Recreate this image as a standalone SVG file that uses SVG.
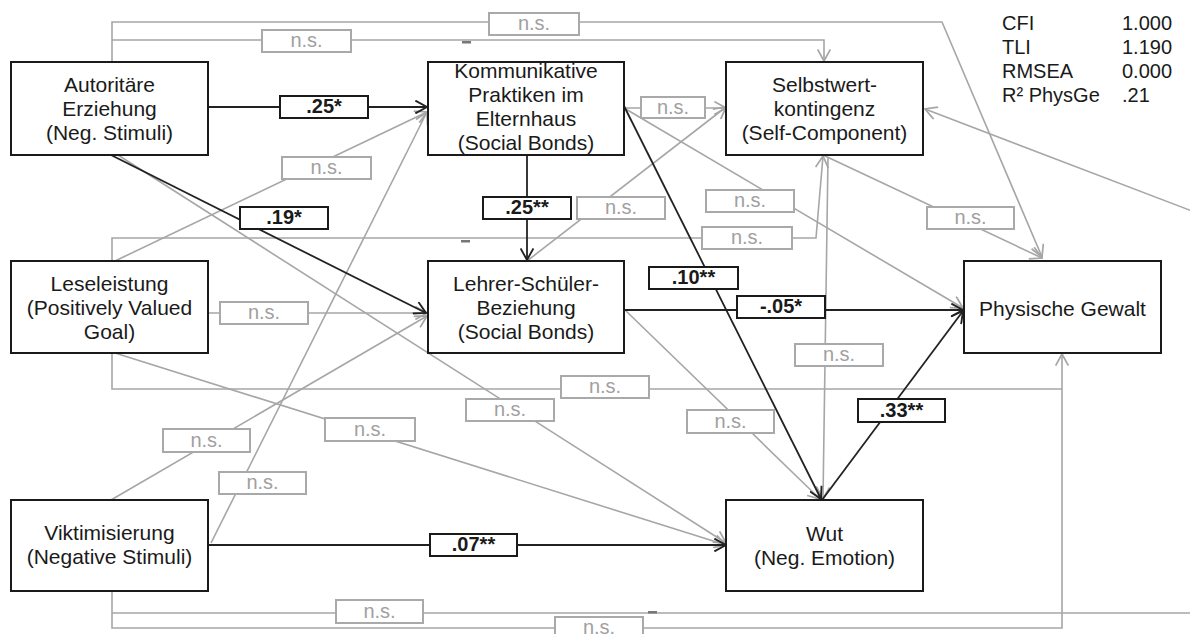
<svg xmlns="http://www.w3.org/2000/svg" width="1190" height="634" viewBox="0 0 1190 634">
<defs>
<style>
.node{fill:#fff;stroke:#1a1a1a;stroke-width:2}
.nt{font-family:"Liberation Sans",Arial,sans-serif;font-size:21px;fill:#1a1a1a;text-anchor:middle}
.st{font-family:"Liberation Sans",Arial,sans-serif;font-size:20px;fill:#1a1a1a}
.cb{fill:none;stroke:#222;stroke-width:1.8}
.cg{fill:none;stroke:#a6a6a6;stroke-width:1.6}
.lb{fill:#fff;stroke:#1a1a1a;stroke-width:2}
.lg{fill:#fff;stroke:#a9a9a9;stroke-width:2}
.tb{font-family:"Liberation Sans",Arial,sans-serif;font-size:20px;font-weight:bold;fill:#1a1a1a;text-anchor:middle}
.tg{font-family:"Liberation Sans",Arial,sans-serif;font-size:20px;fill:#a0a0a0;text-anchor:middle}
.dash{fill:#777}
</style>
<marker id="ab" markerUnits="userSpaceOnUse" markerWidth="14" markerHeight="14" refX="11" refY="6" orient="auto" viewBox="0 0 12 12"><path d="M1,0.5 L11,6 L1,11.5" fill="none" stroke="#222" stroke-width="1.6"/></marker>
<marker id="ag" markerUnits="userSpaceOnUse" markerWidth="14" markerHeight="14" refX="11" refY="6" orient="auto" viewBox="0 0 12 12"><path d="M1,0.5 L11,6 L1,11.5" fill="none" stroke="#a6a6a6" stroke-width="1.5"/></marker>
</defs>
<rect width="1190" height="634" fill="#fff"/>

<g id="connectors">
<!-- gray connectors -->
<path class="cg" marker-end="url(#ag)" d="M112,62 L112,22 L942,22 L1042,257"/>
<path class="cg" marker-end="url(#ag)" d="M112,40 L824,40 L824,61"/>
<path class="cg" marker-end="url(#ag)" d="M624,108 L726,108"/>
<path class="cg" marker-end="url(#ag)" d="M115,261 L427,112"/>
<path class="cg" marker-end="url(#ag)" d="M527,261 L726,107"/>
<path class="cg" marker-end="url(#ag)" d="M624,108 L963,308"/>
<path class="cg" marker-end="url(#ag)" d="M112,261 L112,238 L816,238 L823,156"/>
<path class="cg" marker-end="url(#ag)" d="M823,155 L1042,258"/>
<path class="cg" marker-end="url(#ag)" d="M208,313 L427,313"/>
<path class="cg" marker-end="url(#ag)" d="M828,157 L823,499"/>
<path class="cg" marker-end="url(#ag)" d="M112,353 L112,389 L1062,389 L1062,354"/>
<path class="cg" marker-end="url(#ag)" d="M118,155 L726,543"/>
<path class="cg" marker-end="url(#ag)" d="M115,353 L726,545"/>
<path class="cg" marker-end="url(#ag)" d="M624,309 L820,499"/>
<path class="cg" marker-end="url(#ag)" d="M111,500 L427,316"/>
<path class="cg" marker-end="url(#ag)" d="M211,543 L427,112"/>
<path class="cg" d="M112,591 L112,628 L1062,628 L1062,389"/>
<path class="cg" marker-end="url(#ag)" d="M112,613 L1205,613 L1205,216 L925,109"/>
<!-- black connectors -->
<path class="cb" marker-end="url(#ab)" d="M208,107 L427,107"/>
<path class="cb" marker-end="url(#ab)" d="M111,155 L426,313"/>
<path class="cb" marker-end="url(#ab)" d="M527,155 L527,260"/>
<path class="cb" marker-end="url(#ab)" d="M624,106 L821,499"/>
<path class="cb" marker-end="url(#ab)" d="M624,310 L963,310"/>
<path class="cb" marker-end="url(#ab)" d="M822,500 L963,311"/>
<path class="cb" marker-end="url(#ab)" d="M208,545 L726,545"/>
<!-- small jump marks -->
<rect class="dash" x="462" y="41" width="9" height="2.5"/>
<rect class="dash" x="461" y="240" width="9" height="2.5"/>
<rect class="dash" x="648" y="611" width="9" height="2.5"/>

<!-- n.s. labels -->
<g>
<rect class="lg" x="489" y="13" width="90" height="22"/><text class="tg" x="534" y="30">n.s.</text>
<rect class="lg" x="262" y="30" width="89" height="22"/><text class="tg" x="306.5" y="47">n.s.</text>
<rect class="lg" x="641" y="97" width="64" height="21"/><text class="tg" x="673" y="114">n.s.</text>
<rect class="lg" x="282" y="157" width="89" height="22"/><text class="tg" x="326.5" y="174">n.s.</text>
<rect class="lg" x="577" y="197" width="88" height="22"/><text class="tg" x="621" y="214">n.s.</text>
<rect class="lg" x="706" y="190" width="88" height="22"/><text class="tg" x="750" y="207">n.s.</text>
<rect class="lg" x="702" y="227" width="90" height="22"/><text class="tg" x="747" y="244">n.s.</text>
<rect class="lg" x="927" y="207" width="87" height="22"/><text class="tg" x="970.5" y="224">n.s.</text>
<rect class="lg" x="220" y="302" width="88" height="22"/><text class="tg" x="264" y="319">n.s.</text>
<rect class="lg" x="795" y="344" width="88" height="22"/><text class="tg" x="839" y="361">n.s.</text>
<rect class="lg" x="561" y="376" width="88" height="22"/><text class="tg" x="605" y="393">n.s.</text>
<rect class="lg" x="466" y="399" width="88" height="22"/><text class="tg" x="510" y="416">n.s.</text>
<rect class="lg" x="325" y="418" width="90" height="23"/><text class="tg" x="370" y="436">n.s.</text>
<rect class="lg" x="687" y="410" width="87" height="23"/><text class="tg" x="730.5" y="428">n.s.</text>
<rect class="lg" x="163" y="429" width="87" height="23"/><text class="tg" x="206.5" y="447">n.s.</text>
<rect class="lg" x="219" y="472" width="87" height="22"/><text class="tg" x="262.5" y="489">n.s.</text>
<rect class="lg" x="336" y="600" width="87" height="23"/><text class="tg" x="379.5" y="618">n.s.</text>
<rect class="lg" x="555" y="617" width="88" height="23"/><text class="tg" x="599" y="634">n.s.</text>
</g>
<!-- significant labels -->
<g>
<rect class="lb" x="280" y="96" width="88" height="22"/><text class="tb" x="324" y="113">.25*</text>
<rect class="lb" x="240" y="207" width="88" height="22"/><text class="tb" x="284" y="224">.19*</text>
<rect class="lb" x="483" y="197" width="88" height="22"/><text class="tb" x="527" y="214">.25**</text>
<rect class="lb" x="649" y="267" width="89" height="22"/><text class="tb" x="693.5" y="284">.10**</text>
<rect class="lb" x="737" y="296" width="88" height="22"/><text class="tb" x="781" y="313">-.05*</text>
<rect class="lb" x="858" y="399" width="87" height="23"/><text class="tb" x="901.5" y="417" font-weight="normal">.33**</text>
<rect class="lb" x="430" y="534" width="87" height="22"/><text class="tb" x="473.5" y="551">.07**</text>
</g>
</g>

<g id="n-autoritaer">
<rect class="node" x="11" y="62" width="197" height="93"/>
<text class="nt" x="109.5" y="92">Autoritäre</text>
<text class="nt" x="109.5" y="116">Erziehung</text>
<text class="nt" x="109.5" y="140">(Neg. Stimuli)</text>
</g>
<g id="n-kommunikativ">
<rect class="node" x="428" y="62" width="196" height="93"/>
<text class="nt" x="526" y="78">Kommunikative</text>
<text class="nt" x="526" y="102">Praktiken im</text>
<text class="nt" x="526" y="126">Elternhaus</text>
<text class="nt" x="526" y="150">(Social Bonds)</text>
</g>
<g id="n-selbstwert">
<rect class="node" x="726" y="62" width="197" height="93"/>
<text class="nt" x="824.5" y="92">Selbstwert-</text>
<text class="nt" x="824.5" y="116">kontingenz</text>
<text class="nt" x="824.5" y="140">(Self-Component)</text>
</g>
<g id="n-leseleistung">
<rect class="node" x="11" y="261" width="197" height="92"/>
<text class="nt" x="109.5" y="291">Leseleistung</text>
<text class="nt" x="109.5" y="315">(Positively Valued</text>
<text class="nt" x="109.5" y="339">Goal)</text>
</g>
<g id="n-lehrer">
<rect class="node" x="428" y="261" width="196" height="92"/>
<text class="nt" x="526" y="291">Lehrer-Schüler-</text>
<text class="nt" x="526" y="315">Beziehung</text>
<text class="nt" x="526" y="339">(Social Bonds)</text>
</g>
<g id="n-physisch">
<rect class="node" x="964" y="261" width="197" height="92"/>
<text class="nt" x="1062.5" y="316">Physische Gewalt</text>
</g>
<g id="n-viktimisierung">
<rect class="node" x="11" y="500" width="197" height="91"/>
<text class="nt" x="109.5" y="540">Viktimisierung</text>
<text class="nt" x="109.5" y="564">(Negative Stimuli)</text>
</g>
<g id="n-wut">
<rect class="node" x="726" y="500" width="197" height="91"/>
<text class="nt" x="824.5" y="541">Wut</text>
<text class="nt" x="824.5" y="565">(Neg. Emotion)</text>
</g>

<g id="fit-stats">
<text class="st" x="1002" y="30">CFI</text><text class="st" x="1122" y="30">1.000</text>
<text class="st" x="1002" y="54">TLI</text><text class="st" x="1122" y="54">1.190</text>
<text class="st" x="1002" y="78">RMSEA</text><text class="st" x="1122" y="78">0.000</text>
<text class="st" x="1002" y="102">R² PhysGe</text><text class="st" x="1122" y="102">.21</text>
</g>
</svg>
